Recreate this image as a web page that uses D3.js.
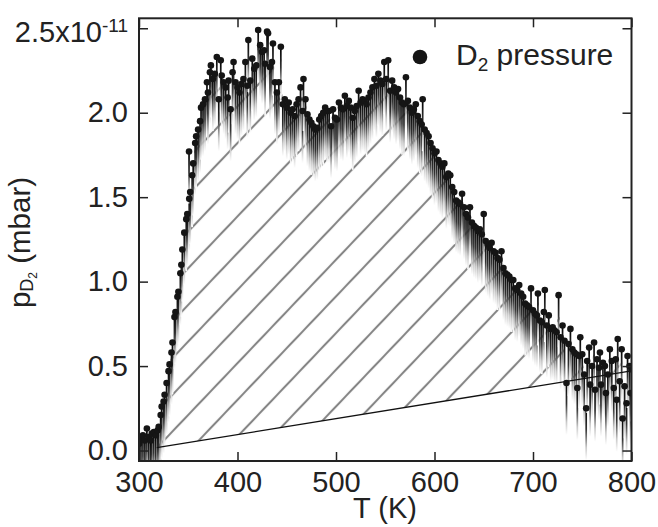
<!DOCTYPE html>
<html>
<head>
<meta charset="UTF-8">
<title>D2 pressure</title>
<script src="https://cdn.jsdelivr.net/npm/d3@7/dist/d3.min.js"></script>
<style type="text/css">
body { margin: 0; background: #fff; }
svg { display: block; }
text { font-family: "Liberation Sans", Arial, Helvetica, sans-serif; fill: #222; }
.axis text { font-size: 29px; }
.axis line { stroke: #222; stroke-width: 1.5; }
</style>
</head>
<body>
<div class="chart"></div>
<script>
// T in K, pressure in units of 1e-11 mbar
var tempK = [
  300, 302, 304, 306, 308, 310, 312, 313, 315, 317, 319, 320, 322, 323, 325, 326, 328, 330, 331, 333,
  334, 336, 337, 339, 340, 342, 343, 344, 346, 348, 349, 351, 350.8, 352, 354, 355, 357, 358, 360, 362,
  363, 365, 367, 369, 370, 372, 373, 375, 377, 379, 381, 383, 384, 386, 388, 390, 391, 393, 395, 396,
  398, 400, 402, 404, 406, 408, 410, 411, 413, 415, 417, 419, 421, 423, 425, 427, 428, 430, 431, 433,
  435, 436, 438, 440, 442, 444, 446, 448, 450, 452, 454, 456, 458, 460, 462, 464, 466, 467, 469, 471,
  473, 475, 477, 479, 481, 483, 485, 487, 489, 491, 493, 495, 497, 499, 501, 503, 505, 507, 509, 511,
  513, 515, 517, 519, 521, 523, 525, 527, 529, 531, 533, 535, 537, 539, 541, 543, 545, 547, 549, 551,
  553, 555, 557, 559, 561, 563, 565, 567, 569, 571, 573, 575, 577, 579, 581, 583, 585, 587, 588, 590,
  592, 594, 596, 598, 600, 602, 604, 606, 608, 610, 612, 614, 616, 618, 620, 622, 624, 626, 628, 630,
  632, 634, 636, 638, 640, 642, 644, 646, 648, 650, 652, 654, 656, 658, 660, 662, 664, 666, 668, 670,
  672, 674, 676, 678, 680, 682, 684, 686, 688, 690, 692, 694, 696, 698, 700, 702, 704, 705, 707, 709,
  711, 712, 714, 716, 718, 720, 722, 724, 726, 728, 730, 732, 734, 736, 738, 740, 742, 744, 745, 747,
  748, 750, 752, 754, 755, 757, 758, 760, 762, 763, 765, 767, 768, 769, 771, 773, 774, 776, 778, 780,
  782, 784, 785, 786, 788, 790, 791, 793, 795, 796, 798, 799, 800
];
var pressure = [
  0.04, 0.07, 0.09, 0.06, 0.13, 0.08, 0.06, 0.10, 0.11, 0.09, 0.12, 0.14, 0.21, 0.26, 0.29, 0.33, 0.40, 0.47, 0.51, 0.58,
  0.64, 0.79, 0.82, 0.91, 0.94, 1.05, 1.10, 1.19, 1.29, 1.37, 1.40, 1.49, 1.77, 1.53, 1.63, 1.70, 1.82, 1.86, 1.90, 1.95,
  2.03, 2.05, 2.08, 2.18, 2.12, 2.24, 2.28, 2.20, 2.23, 2.33, 2.08, 2.31, 2.22, 2.18, 2.15, 2.09, 2.19, 2.02, 2.24, 2.30,
  2.18, 2.15, 2.12, 2.17, 2.20, 2.30, 2.16, 2.43, 2.19, 2.32, 2.26, 2.28, 2.49, 2.40, 2.36, 2.37, 2.29, 2.48, 2.47, 2.27,
  2.30, 2.41, 2.18, 2.12, 2.18, 2.39, 2.05, 2.08, 2.03, 2.06, 2.00, 2.02, 1.98, 2.05, 2.08, 2.15, 2.01, 2.20, 2.08, 1.99,
  1.96, 1.94, 1.92, 1.90, 1.91, 1.96, 1.98, 2.00, 2.03, 2.01, 2.01, 1.92, 2.02, 1.97, 1.96, 2.06, 2.03, 2.02, 2.10, 2.04,
  2.07, 2.03, 1.97, 2.01, 2.04, 2.13, 2.06, 2.08, 2.07, 2.05, 2.09, 2.12, 2.15, 2.20, 2.16, 2.23, 2.19, 2.17, 2.30, 2.20,
  2.31, 2.13, 2.19, 2.15, 2.12, 2.14, 2.09, 2.06, 2.05, 2.21, 2.07, 2.03, 2.00, 2.02, 2.05, 1.98, 1.95, 1.93, 2.08, 1.90,
  1.88, 1.86, 1.82, 1.79, 1.76, 1.77, 1.72, 1.70, 1.68, 1.70, 1.62, 1.64, 1.63, 1.56, 1.53, 1.48, 1.47, 1.46, 1.52, 1.44,
  1.40, 1.38, 1.44, 1.35, 1.33, 1.32, 1.30, 1.31, 1.28, 1.40, 1.24, 1.22, 1.20, 1.23, 1.18, 1.17, 1.14, 1.13, 1.18, 1.08,
  1.05, 1.04, 1.03, 1.01, 1.01, 0.96, 0.95, 0.98, 0.93, 0.91, 0.87, 0.86, 0.85, 0.96, 0.83, 0.81, 0.80, 0.93, 0.77, 0.76,
  0.82, 0.95, 0.74, 0.80, 0.72, 0.73, 0.71, 0.70, 0.92, 0.67, 0.74, 0.65, 0.40, 0.63, 0.72, 0.60, 0.58, 0.57, 0.37, 0.56,
  0.67, 0.57, 0.45, 0.25, 0.53, 0.61, 0.39, 0.50, 0.64, 0.36, 0.54, 0.49, 0.58, 0.39, 0.52, 0.50, 0.34, 0.45, 0.60, 0.53,
  0.37, 0.54, 0.30, 0.66, 0.41, 0.60, 0.19, 0.38, 0.28, 0.56, 0.50, 0.34, 0.48
];
// linear background under the desorption peak
var baseT = [318, 800];
var baseP = [0.017, 0.472];

var xTicks = [300, 400, 500, 600, 700, 800];
var yTicks = [0, 0.5, 1.0, 1.5, 2.0, 2.5];
var yTickLabels = ["0.0", "0.5", "1.0", "1.5", "2.0", ""];

var points = tempK.map(function (t, i) { return { t: t, p: pressure[i] }; });

var width = 658, height = 527;
var plotL = 139, plotR = 631.5, plotT = 18.3, plotB = 461;

var x = d3.scaleLinear().domain([300, 800]).range([plotL, plotR]);
var y = d3.scaleLinear().domain([-0.062, 2.559]).range([plotB, plotT]);
var base = d3.scaleLinear().domain(baseT).range(baseP);

var svg = d3.select(".chart")
  .append("svg")
  .attr("width", width)
  .attr("height", height);

var defs = svg.append("defs");

var hatch = defs.append("pattern")
  .attr("id", "hatch")
  .attr("patternUnits", "userSpaceOnUse")
  .attr("width", 10)
  .attr("height", 25.3)
  .attr("patternTransform", "translate(198.3,441) rotate(-46.4)");
[0, 25.3].forEach(function (yy) {
  hatch.append("line")
    .attr("x1", -1).attr("x2", 11)
    .attr("y1", yy).attr("y2", yy)
    .attr("stroke", "#858585")
    .attr("stroke-width", 2.1);
});

var fade = defs.append("linearGradient")
  .attr("id", "fade")
  .attr("x1", 0).attr("y1", 0)
  .attr("x2", 0).attr("y2", 1);
fade.append("stop").attr("offset", "0%").attr("stop-color", "#000");
fade.append("stop").attr("offset", "40%").attr("stop-color", "#333");
fade.append("stop").attr("offset", "75%").attr("stop-color", "#c8c8c8");
fade.append("stop").attr("offset", "100%").attr("stop-color", "#fff");

defs.append("clipPath")
  .attr("id", "plotclip")
  .append("rect")
  .attr("x", plotL).attr("y", plotT)
  .attr("width", plotR - plotL).attr("height", plotB - plotT);

// hatched area between background line and data
var under = points.filter(function (d) { return d.t >= baseT[0]; })
  .sort(function (a, b) { return a.t - b.t; });
var area = d3.area()
  .x(function (d) { return x(d.t); })
  .y0(function (d) { return y(base(d.t)); })
  .y1(function (d) { return y(Math.max(d.p, base(d.t))); });

defs.append("clipPath")
  .attr("id", "areaclip")
  .append("path")
  .attr("d", area(under));

var plot = svg.append("g").attr("clip-path", "url(#plotclip)");

plot.append("rect")
  .attr("x", plotL).attr("y", plotT)
  .attr("width", plotR - plotL).attr("height", plotB - plotT)
  .attr("fill", "url(#hatch)")
  .attr("clip-path", "url(#areaclip)");

// fading drop lines below each point
plot.selectAll(".drop")
  .data(points)
  .enter()
  .append("rect")
  .attr("class", "drop")
  .attr("x", function (d) { return x(d.t) - 0.85; })
  .attr("y", function (d) { return y(d.p); })
  .attr("width", 1.7)
  .attr("height", 52)
  .attr("fill", "url(#fade)");

plot.append("line")
  .attr("x1", x(baseT[0])).attr("y1", y(baseP[0]))
  .attr("x2", x(baseT[1])).attr("y2", y(baseP[1]))
  .attr("stroke", "#111")
  .attr("stroke-width", 1.3);

plot.selectAll(".dot")
  .data(points)
  .enter()
  .append("circle")
  .attr("class", "dot")
  .attr("cx", function (d) { return x(d.t); })
  .attr("cy", function (d) { return y(d.p); })
  .attr("r", 3.3)
  .attr("fill", "#151515");

// axes, ticks pointing inward
svg.append("g")
  .attr("class", "axis")
  .attr("transform", "translate(0," + plotB + ")")
  .call(d3.axisBottom(x).tickValues(xTicks).tickSizeInner(-9).tickSizeOuter(0).tickPadding(10).tickFormat(d3.format("d")));

svg.append("g")
  .attr("class", "axis")
  .attr("transform", "translate(0," + plotT + ")")
  .call(d3.axisTop(x).tickValues(xTicks).tickSizeInner(-9).tickSizeOuter(0).tickFormat(""));

svg.append("g")
  .attr("class", "axis")
  .attr("transform", "translate(" + plotL + ",0)")
  .call(d3.axisLeft(y).tickValues(yTicks).tickSizeInner(-9).tickSizeOuter(0).tickPadding(11)
    .tickFormat(function (d, i) { return yTickLabels[i]; }));

svg.append("g")
  .attr("class", "axis")
  .attr("transform", "translate(" + plotR + ",0)")
  .call(d3.axisRight(y).tickValues(yTicks).tickSizeInner(-9).tickSizeOuter(0).tickFormat(""));

svg.selectAll(".axis .domain").remove();

svg.append("rect")
  .attr("x", plotL).attr("y", plotT)
  .attr("width", plotR - plotL).attr("height", plotB - plotT)
  .attr("fill", "none")
  .attr("stroke", "#222")
  .attr("stroke-width", 2);

// top y label with exponent
var topLabel = svg.append("text")
  .attr("x", 128)
  .attr("y", 42)
  .attr("text-anchor", "end")
  .style("font-size", "29px");
topLabel.append("tspan").text("2.5x10");
topLabel.append("tspan").attr("dy", -10).style("font-size", "19px").text("-11");

svg.append("text")
  .attr("x", 385)
  .attr("y", 518)
  .attr("text-anchor", "middle")
  .style("font-size", "29px")
  .text("T (K)");

var ylab = svg.append("text")
  .attr("transform", "translate(30,242.5) rotate(-90)")
  .attr("text-anchor", "middle")
  .style("font-size", "29.5px");
ylab.append("tspan").text("p");
ylab.append("tspan").attr("dy", 3).style("font-size", "18px").text("D");
ylab.append("tspan").attr("dy", 4).style("font-size", "12px").text("2");
ylab.append("tspan").attr("dy", -7).text(" (mbar)");

// legend
svg.append("circle")
  .attr("cx", 420).attr("cy", 57)
  .attr("r", 7.3)
  .attr("fill", "#151515");
var leg = svg.append("text")
  .attr("x", 456)
  .attr("y", 65)
  .style("font-size", "30px");
leg.append("tspan").text("D");
leg.append("tspan").attr("dy", 6).style("font-size", "19px").text("2");
leg.append("tspan").attr("dy", -6).text(" pressure");
</script>
</body>
</html>
